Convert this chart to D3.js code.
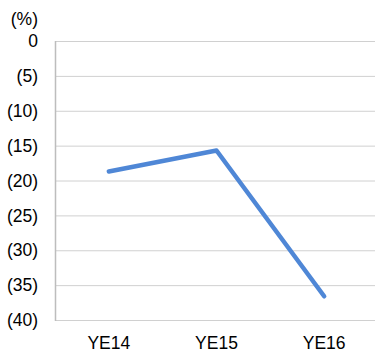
<!DOCTYPE html>
<html><head><meta charset="utf-8">
<script src="https://cdn.jsdelivr.net/npm/d3@7"></script>
<style>body{margin:0;background:#fff}svg{display:block}text{font-family:"Liberation Sans",Arial,sans-serif;fill:#000}</style>
</head><body>
<script>
const categories = ["YE14", "YE15", "YE16"];
const values = [-18.7, -15.7, -36.6];
const yTicks = [0, -5, -10, -15, -20, -25, -30, -35, -40];
const yTickLabels = ["0", "(5)", "(10)", "(15)", "(20)", "(25)", "(30)", "(35)", "(40)"];
const unitLabel = "(%)";

const W = 375, H = 354;
const m = {left: 55, right: -3, top: 41, bottom: 34};
const svg = d3.select("body").append("svg").attr("width", W).attr("height", H);

const x = d3.scaleBand().domain(categories).range([m.left, W - m.right]);
const y = d3.scaleLinear().domain([-40, 0]).range([H - m.bottom, m.top]);

// gridlines
svg.append("g").selectAll("line").data(yTicks).join("line")
  .attr("x1", m.left).attr("x2", W)
  .attr("y1", d => y(d) + 0.5).attr("y2", d => y(d) + 0.5)
  .attr("stroke", "#d0d0d0").attr("stroke-width", 1);

// left axis line
svg.append("line").attr("x1", m.left + 0.5).attr("x2", m.left + 0.5)
  .attr("y1", y(0)).attr("y2", y(-40) + 1)
  .attr("stroke", "#bdbdbd").attr("stroke-width", 1.5);

// y labels
svg.append("g").selectAll("text").data(yTicks).join("text")
  .attr("x", 38).attr("y", d => y(d)).attr("dy", "0.35em")
  .attr("text-anchor", "end").attr("font-size", 17.5)
  .text((d, i) => yTickLabels[i]);

svg.append("text").attr("x", 38).attr("y", 25).attr("text-anchor", "end")
  .attr("font-size", 17.5).text(unitLabel);

// x labels
svg.append("g").selectAll("text").data(categories).join("text")
  .attr("x", d => x(d) + x.bandwidth() / 2).attr("y", 349)
  .attr("text-anchor", "middle").attr("font-size", 17.5)
  .text(d => d);

// line
const line = d3.line().x((d, i) => x(categories[i]) + x.bandwidth() / 2).y(d => y(d));
svg.append("path").datum(values).attr("d", line)
  .attr("fill", "none").attr("stroke", "#4f87d6").attr("stroke-width", 4.5)
  .attr("stroke-linecap", "round").attr("stroke-linejoin", "round");
</script>
</body></html>
